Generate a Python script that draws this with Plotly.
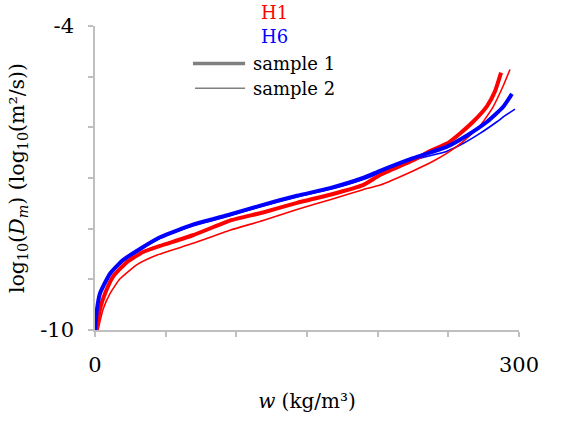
import plotly.graph_objects as go

# H6 sample 1 (blue, thick)
h6_s1_w = [0, 1.4, 3.5, 10.6, 19.8, 31.8, 46.0, 69.3, 95.5, 118.9, 142.9, 166.3, 189.6, 201.7, 225.0, 249.1, 263.2, 277.4, 288.7, 295.0]
h6_s1_d = [-10.0, -9.59, -9.28, -8.89, -8.62, -8.40, -8.17, -7.92, -7.72, -7.53, -7.35, -7.20, -7.00, -6.86, -6.61, -6.38, -6.16, -5.89, -5.60, -5.34]
# H6 sample 2 (blue, thin)
h6_s2_w = [0, 3.5, 10.6, 19.8, 31.8, 46.0, 69.3, 95.5, 118.9, 142.9, 166.3, 189.6, 201.7, 225.0, 249.1, 260.4, 272.4, 284.4, 290.1, 297.2]
h6_s2_d = [-10.0, -9.30, -8.91, -8.64, -8.42, -8.19, -7.94, -7.74, -7.55, -7.37, -7.22, -7.03, -6.90, -6.65, -6.47, -6.32, -6.12, -5.89, -5.77, -5.64]
# H1 sample 1 (red, thick)
h1_s1_w = [1.2, 3.5, 7.1, 12.7, 22.6, 34.0, 46.0, 69.3, 95.5, 118.9, 142.9, 166.3, 189.6, 201.7, 225.0, 237.0, 249.1, 258.3, 267.5, 277.4, 283.0, 287.3]
h1_s1_d = [-10.0, -9.59, -9.28, -8.95, -8.66, -8.46, -8.34, -8.13, -7.84, -7.68, -7.49, -7.33, -7.14, -6.94, -6.65, -6.47, -6.32, -6.12, -5.89, -5.58, -5.29, -4.92]
# H1 sample 2 (red, thin)
h1_s2_w = [2.1, 5.7, 10.6, 17.7, 29.7, 43.9, 69.3, 95.5, 118.9, 142.9, 166.3, 189.6, 201.7, 225.0, 239.2, 249.1, 260.4, 272.4, 281.6, 288.7, 293.6]
h1_s2_d = [-10.0, -9.59, -9.28, -8.99, -8.71, -8.52, -8.29, -8.03, -7.84, -7.62, -7.43, -7.23, -7.14, -6.86, -6.67, -6.51, -6.28, -5.97, -5.60, -5.19, -4.86]

x_labels = [0, 300]
x_label_text = ["0", "300"]
x_minor = [50, 100, 150, 200, 250]
y_labels = [-10, -4]
y_label_text = ["-10", "-4"]
y_minor = [-9, -8, -7, -6, -5]

RED = "#ff0000"
BLUE = "#0000ff"
FONT = "DejaVu Serif"
AX = "#bfbfbf"

fig = go.Figure()
lc = dict(shape="spline", smoothing=0.5)
fig.add_trace(go.Scatter(x=h6_s2_w, y=h6_s2_d, mode="lines", line=dict(color=BLUE, width=1.6, **lc), showlegend=False))
fig.add_trace(go.Scatter(x=h1_s2_w, y=h1_s2_d, mode="lines", line=dict(color=RED, width=1.6, **lc), showlegend=False))
fig.add_trace(go.Scatter(x=h1_s1_w, y=h1_s1_d, mode="lines", line=dict(color=RED, width=4, **lc), showlegend=False))
fig.add_trace(go.Scatter(x=h6_s1_w, y=h6_s1_d, mode="lines", line=dict(color=BLUE, width=4, **lc), showlegend=False))

axis_common = dict(
    showgrid=False, zeroline=False, showline=True, linecolor=AX, linewidth=1.5,
    ticks="outside", tickcolor=AX, ticklen=5, tickwidth=1.5,
    tickfont=dict(family=FONT, size=21, color="black"),
)
fig.update_xaxes(range=[0, 300], tickmode="array", tickvals=x_labels, ticktext=x_label_text, ticklabelstandoff=10,
                 minor=dict(tickmode="array", tickvals=x_minor, ticks="outside", ticklen=5, tickcolor=AX, tickwidth=1.5, showgrid=False),
                 title=dict(text="<i>w</i> (kg/m³)", font=dict(family=FONT, size=20, color="black"), standoff=18),
                 **axis_common)
fig.update_yaxes(range=[-10, -4], tickmode="array", tickvals=y_labels, ticktext=y_label_text, ticklabelstandoff=10,
                 minor=dict(tickmode="array", tickvals=y_minor, ticks="outside", ticklen=5, tickcolor=AX, tickwidth=1.5, showgrid=False),
                 title=dict(text="log<sub>10</sub>(<i>D<sub>m</sub></i>) (log<sub>10</sub>(m²/s))",
                            font=dict(family=FONT, size=20.5, color="black"), standoff=10),
                 **axis_common)

ann_font = dict(family=FONT, size=18)
fig.add_annotation(x=0.386, y=1.045, xref="paper", yref="paper", text="H1", showarrow=False,
                   xanchor="left", yanchor="middle", font=dict(color=RED, **ann_font))
fig.add_annotation(x=0.386, y=0.964, xref="paper", yref="paper", text="H6", showarrow=False,
                   xanchor="left", yanchor="middle", font=dict(color=BLUE, **ann_font))
fig.add_annotation(x=0.367, y=0.877, xref="paper", yref="paper", text="sample 1", showarrow=False,
                   xanchor="left", yanchor="middle", font=dict(color="black", **ann_font))
fig.add_annotation(x=0.367, y=0.795, xref="paper", yref="paper", text="sample 2", showarrow=False,
                   xanchor="left", yanchor="middle", font=dict(color="black", **ann_font))
fig.add_shape(type="line", xref="paper", yref="paper", x0=0.231, x1=0.354, y0=0.877, y1=0.877,
              line=dict(color="#808080", width=3.5))
fig.add_shape(type="line", xref="paper", yref="paper", x0=0.236, x1=0.354, y0=0.795, y1=0.795,
              line=dict(color="#808080", width=1.5))

fig.update_layout(
    width=564, height=421,
    margin=dict(l=95, r=45, t=26, b=87),
    plot_bgcolor="white", paper_bgcolor="white",
    showlegend=False,
    font=dict(family=FONT),
)
fig.write_html("out.html")
